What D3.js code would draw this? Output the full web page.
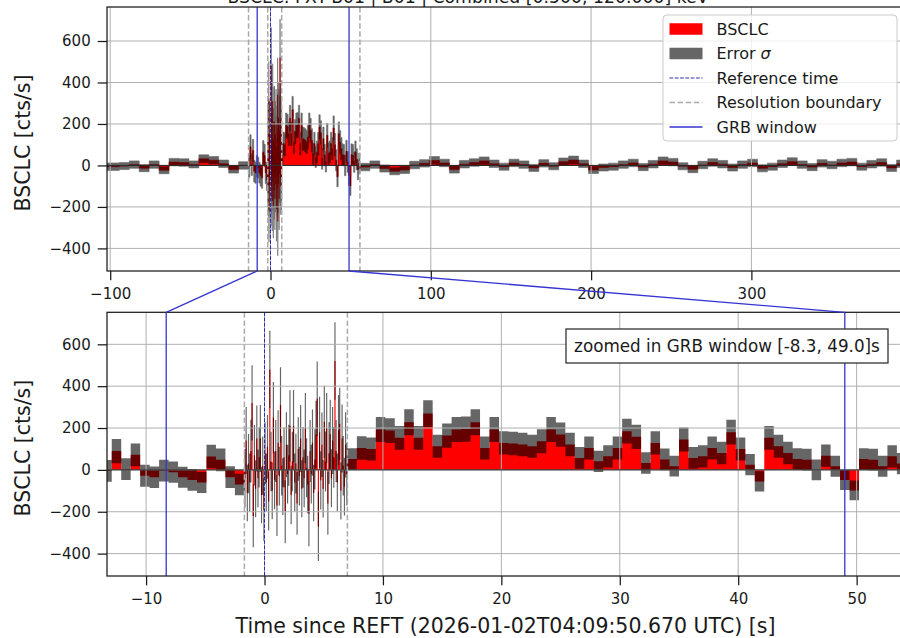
<!DOCTYPE html>
<html>
<head>
<meta charset="utf-8">
<script src="https://cdn.jsdelivr.net/npm/d3@7"></script>
<style>
  body { margin: 0; background: #fff; }
  svg { display: block; font-family: "DejaVu Sans", sans-serif; }
</style>
</head>
<body>
<svg id="chart" width="900" height="638"></svg>
<script>
// ---------------------------------------------------------------------------
// Light-curve data
// ---------------------------------------------------------------------------
// Time markers (s since REFT)
const resolutionBoundaries = [-13.7, -1.7, 7.0, 55.8];
const grbWindow = [-8.3, 49.0];
const referenceTime = 0;

// Bin widths (s) for each resolution
const coarseBin = 6.2;
const mediumBin = 0.8;
const fineBin = 0.1;

// Coarse bins before the first boundary (earliest first)
const preCoarseRate = [-6, -6, -3, 4, -13, 4, -23, 16, 14, 5, 32, 25, 8, -20, 0];
const preCoarseErr  = [18, 18, 17, 18, 17, 18, 17, 18, 18, 17, 19, 18, 18, 17, 18];

// Medium bins between -13.7 s and -1.7 s
const preMediumRate = [-5, 90, 4, 72, -28, -35, -4, -11, -35, -48, -60, 64, 48, -35, -70];
const preMediumErr  = [52, 58, 52, 54, 52, 51, 52, 51, 50, 52, 50, 56, 54, 52, 51];

// Fine bins between -1.7 s and 7.0 s
const fineRate = [
  -40, 140, -110, 30, -60, 90, 320, -220, 70, -90,
  150, -40, 60, 150, -120, 20, -190, 80, -60, 110,
  -150, 480, 40, -100, 250, -50, 90, -170, 130, -30,
  310, 20, -80, 60, -200, 120, -20, 70, 210, -120,
  40, 210, -60, 30, -160, 100, -30, 150, -90, 60,
  -40, 200, 10, -70, -210, 90, -20, 130, -110, 50,
  170, 340, -270, 180, -50, 120, -90, 230, 40, 200,
  -160, 80, 170, -40, 140, 60, 520, 90, -60, 190,
  220, -100, 150, 20, -80, 120, -20
];
const fineErr = [
  140, 160, 135, 142, 138, 150, 180, 150, 145, 136,
  158, 138, 144, 160, 135, 140, 150, 148, 138, 152,
  140, 185, 142, 136, 170, 138, 148, 146, 155, 140,
  180, 142, 136, 144, 150, 155, 140, 146, 170, 140,
  142, 172, 138, 143, 150, 152, 140, 160, 136, 145,
  138, 168, 141, 137, 155, 148, 140, 158, 135, 144,
  160, 178, 165, 170, 139, 154, 137, 172, 143, 168,
  150, 148, 165, 139, 160, 145, 185, 148, 138, 168,
  172, 137, 162, 142, 138, 156, 150
];

// Medium bins between 7.0 s and 55.8 s
const postMediumRate = [
  52, 105, 100, 193, 188, 153, 228, 153, 269, 113,
  164, 193, 195, 228, 105, 193, 129, 126, 121, 113,
  137, 193, 169, 121, 57, 105, 41, 65, 105, 185,
  158, 33, 129, 50, 18, 145, 57, 65, 105, 81,
  180, 100, 25, -55, 153, 113, 81, 52, 49, 0,
  68, 17, -48, -98, 52, 49, 17, 65, 30, -20, 10
];
const postMediumErr = [
  52, 56, 55, 60, 59, 57, 62, 57, 64, 55,
  58, 60, 60, 62, 55, 60, 56, 56, 56, 55,
  57, 60, 58, 56, 52, 55, 51, 53, 55, 59,
  58, 51, 56, 52, 50, 57, 52, 53, 55, 54,
  59, 55, 51, 48, 57, 55, 54, 52, 52, 50,
  53, 50, 48, 47, 52, 52, 50, 53, 51, 49, 50
];

// Coarse bins after the last boundary
const postCoarseRate = [
  -8, 4, -15, -28, -22, 2, 10, 24, 12, -20,
  6, 14, 22, 8, -6, 12, 4, -12, 10, -4,
  18, 26, 8, -22, -10, -6, 4, 12, -8, 6,
  22, 16, -4, -18, 2, 14, 6, -10, 4, 12,
  -14, -6, 8, 18, 4, -8, 10, 2, 12, 16,
  -6, 6, 14, -12, 8
];
const postCoarseErr = [
  18, 18, 17, 17, 17, 18, 18, 19, 18, 17,
  18, 18, 19, 18, 17, 18, 18, 17, 18, 17,
  18, 19, 18, 17, 17, 17, 18, 18, 17, 18,
  19, 18, 17, 17, 18, 18, 18, 17, 18, 18,
  17, 17, 18, 19, 18, 17, 18, 18, 18, 18,
  17, 18, 18, 17, 18
];

// Axis ticks
const overviewTicks = [-100, 0, 100, 200, 300];
const zoomTicks = [-10, 0, 10, 20, 30, 40, 50];
const rateTicks = [-400, -200, 0, 200, 400, 600];

const titleText = "BSCLC: FXT-B01 | B01 | Combined [0.500, 120.000] keV";
const yLabelText = "BSCLC [cts/s]";
const xLabelText = "Time since REFT (2026-01-02T04:09:50.670 UTC) [s]";
const zoomNote = "zoomed in GRB window [-8.3, 49.0]s";

// ---------------------------------------------------------------------------
// Bins
// ---------------------------------------------------------------------------
function segment(start, width, rates, errs) {
  return rates.map((v, i) => ({
    t0: start + i * width,
    t1: start + (i + 1) * width,
    v: v,
    e: errs[i]
  }));
}
const bins = [].concat(
  segment(resolutionBoundaries[0] - preCoarseRate.length * coarseBin, coarseBin, preCoarseRate, preCoarseErr),
  segment(resolutionBoundaries[0], mediumBin, preMediumRate, preMediumErr),
  segment(resolutionBoundaries[1], fineBin, fineRate, fineErr),
  segment(resolutionBoundaries[2], mediumBin, postMediumRate, postMediumErr),
  segment(resolutionBoundaries[3], coarseBin, postCoarseRate, postCoarseErr)
);
// step outline: two vertices per bin
const steps = [];
bins.forEach(b => {
  steps.push({ t: b.t0, v: b.v, e: b.e });
  steps.push({ t: b.t1, v: b.v, e: b.e });
});

// ---------------------------------------------------------------------------
// Layout
// ---------------------------------------------------------------------------
const svg = d3.select("#chart");
const plotLeft = 107, plotRight = 904;
const grbBlue = "#3535d2";
const refBlue = "#2a2ab4";
const tickFont = 15;

const panels = [
  { id: "overview", top: 7, bottom: 271, xDomain: [-102, 395.2], yDomain: [-509, 764],
    xTicks: overviewTicks, edge: 0.6 },
  { id: "zoom", top: 312.3, bottom: 576, xDomain: [-13.3, 54.0], yDomain: [-507, 753],
    xTicks: zoomTicks, edge: 0 }
];

panels.forEach(p => {
  p.x = d3.scaleLinear().domain(p.xDomain).range([plotLeft, plotRight]);
  p.y = d3.scaleLinear().domain(p.yDomain).range([p.bottom, p.top]);
});

function drawPanel(p) {
  const g = svg.append("g").attr("class", p.id);
  const clipId = "clip-" + p.id;
  svg.append("clipPath").attr("id", clipId)
    .append("rect")
    .attr("x", plotLeft).attr("y", p.top)
    .attr("width", plotRight - plotLeft).attr("height", p.bottom - p.top);

  const inner = g.append("g").attr("clip-path", `url(#${clipId})`);

  // rate
  const rateArea = d3.area()
    .x(d => p.x(d.t)).y0(p.y(0)).y1(d => p.y(d.v));
  inner.append("path").datum(steps)
    .attr("d", rateArea)
    .attr("fill", "#ff0000")
    .attr("stroke", p.edge ? "#ff0000" : "none")
    .attr("stroke-width", p.edge);

  // 1-sigma band
  const errArea = d3.area()
    .x(d => p.x(d.t)).y0(d => p.y(d.v - d.e)).y1(d => p.y(d.v + d.e));
  inner.append("g").attr("opacity", 0.6)
    .append("path").datum(steps)
    .attr("d", errArea)
    .attr("fill", "#000")
    .attr("stroke", p.edge ? "#000" : "none")
    .attr("stroke-width", p.edge);

  // grid
  const grid = inner.append("g").attr("stroke", "#b0b0b0").attr("stroke-width", 1);
  grid.selectAll("line.gx").data(p.xTicks).join("line")
    .attr("x1", d => p.x(d)).attr("x2", d => p.x(d))
    .attr("y1", p.top).attr("y2", p.bottom);
  grid.selectAll("line.gy").data(rateTicks).join("line")
    .attr("x1", plotLeft).attr("x2", plotRight)
    .attr("y1", d => p.y(d)).attr("y2", d => p.y(d));

  // zero level
  inner.append("line")
    .attr("x1", plotLeft).attr("x2", plotRight)
    .attr("y1", p.y(0)).attr("y2", p.y(0))
    .attr("stroke", "#000").attr("stroke-width", 0.8);

  // resolution boundaries
  inner.selectAll("line.rb").data(resolutionBoundaries).join("line")
    .attr("class", "rb")
    .attr("x1", d => p.x(d)).attr("x2", d => p.x(d))
    .attr("y1", p.top).attr("y2", p.bottom)
    .attr("stroke", "#aaaaaa").attr("stroke-width", 1.5)
    .attr("stroke-dasharray", "5.5,2.6");

  // reference time
  inner.append("line")
    .attr("x1", p.x(referenceTime)).attr("x2", p.x(referenceTime))
    .attr("y1", p.top).attr("y2", p.bottom)
    .attr("stroke", refBlue).attr("stroke-width", 1)
    .attr("stroke-dasharray", "3.7,1.6");

  // GRB window
  inner.selectAll("line.gw").data(grbWindow).join("line")
    .attr("class", "gw")
    .attr("x1", d => p.x(d)).attr("x2", d => p.x(d))
    .attr("y1", p.top).attr("y2", p.bottom)
    .attr("stroke", grbBlue).attr("stroke-width", 1.3);

  // frame
  g.append("rect")
    .attr("x", plotLeft).attr("y", p.top)
    .attr("width", plotRight - plotLeft).attr("height", p.bottom - p.top)
    .attr("fill", "none").attr("stroke", "#1a1a1a").attr("stroke-width", 1.25);

  // axes
  const xAxis = d3.axisBottom(p.x).tickValues(p.xTicks).tickSize(9.3).tickPadding(8.5)
    .tickFormat(d3.format("d"));
  const gx = g.append("g").attr("transform", `translate(0,${p.bottom})`).call(xAxis);
  const yAxis = d3.axisLeft(p.y).tickValues(rateTicks).tickSize(9.3).tickPadding(7)
    .tickFormat(d3.format("d"));
  const gy = g.append("g").attr("transform", `translate(${plotLeft},0)`).call(yAxis);
  [gx, gy].forEach(ax => {
    ax.select(".domain").remove();
    ax.selectAll(".tick line").attr("stroke", "#1a1a1a").attr("stroke-width", 1.25);
    ax.selectAll(".tick text")
      .attr("fill", "#1a1a1a")
      .style("font-family", "'DejaVu Sans', sans-serif")
      .style("font-size", tickFont + "px");
  });

  // y label
  g.append("text")
    .attr("transform", `translate(30,${(p.top + p.bottom) / 2 + 4}) rotate(-90)`)
    .attr("text-anchor", "middle")
    .attr("fill", "#1a1a1a")
    .style("font-size", "20.5px")
    .text(yLabelText);
}

panels.forEach(drawPanel);

const overview = panels[0], zoom = panels[1];

// connectors from the GRB window in the overview to the zoomed panel
svg.append("g").selectAll("line").data(grbWindow).join("line")
  .attr("x1", d => overview.x(d)).attr("y1", overview.bottom)
  .attr("x2", d => zoom.x(d)).attr("y2", zoom.top)
  .attr("stroke", grbBlue).attr("stroke-width", 1.3);

// title (sits mostly above the visible area)
svg.append("text")
  .attr("x", 227.5).attr("y", 2.5)
  .attr("fill", "#1a1a1a")
  .style("font-size", "17.3px")
  .text(titleText);

// x label
svg.append("text")
  .attr("x", (plotLeft + plotRight) / 2).attr("y", 633)
  .attr("text-anchor", "middle")
  .attr("fill", "#1a1a1a")
  .style("font-size", "20.5px")
  .text(xLabelText);

// legend
const legend = svg.append("g");
legend.append("rect")
  .attr("x", 663).attr("y", 15).attr("width", 234).attr("height", 126)
  .attr("rx", 4).attr("ry", 4)
  .attr("fill", "#fff").attr("fill-opacity", 0.8)
  .attr("stroke", "#cccccc").attr("stroke-width", 1);
const legendItems = [
  { label: "BSCLC", kind: "patch", color: "#ff0000" },
  { label: "Error ", sym: "σ", kind: "patch", color: "#666666" },
  { label: "Reference time", kind: "line", color: refBlue, width: 1, dash: "3.7,1.6" },
  { label: "Resolution boundary", kind: "line", color: "#aaaaaa", width: 1.5, dash: "5.5,2.6" },
  { label: "GRB window", kind: "line", color: grbBlue, width: 1.3, dash: null }
];
const rowY = d3.scaleLinear().domain([0, legendItems.length - 1]).range([29, 127]);
legendItems.forEach((it, i) => {
  const cy = rowY(i);
  if (it.kind === "patch") {
    legend.append("rect")
      .attr("x", 669.5).attr("y", cy - 5.75).attr("width", 33).attr("height", 11.5)
      .attr("fill", it.color);
  } else {
    legend.append("line")
      .attr("x1", 669.5).attr("x2", 702.5).attr("y1", cy).attr("y2", cy)
      .attr("stroke", it.color).attr("stroke-width", it.width)
      .attr("stroke-dasharray", it.dash);
  }
  const t = legend.append("text")
    .attr("x", 716.5).attr("y", cy + 5.8)
    .attr("fill", "#1a1a1a")
    .style("font-size", "16px")
    .text(it.label);
  if (it.sym) t.append("tspan").style("font-style", "italic").text(it.sym);
});

// note box in the zoomed panel
const note = svg.append("g");
note.append("rect")
  .attr("x", 566).attr("y", 329).attr("width", 322).attr("height", 34)
  .attr("fill", "#fff").attr("stroke", "#333").attr("stroke-width", 1.3);
note.append("text")
  .attr("x", 727).attr("y", 352)
  .attr("text-anchor", "middle")
  .attr("fill", "#1a1a1a")
  .style("font-size", "16.8px")
  .text(zoomNote);
</script>
</body>
</html>
